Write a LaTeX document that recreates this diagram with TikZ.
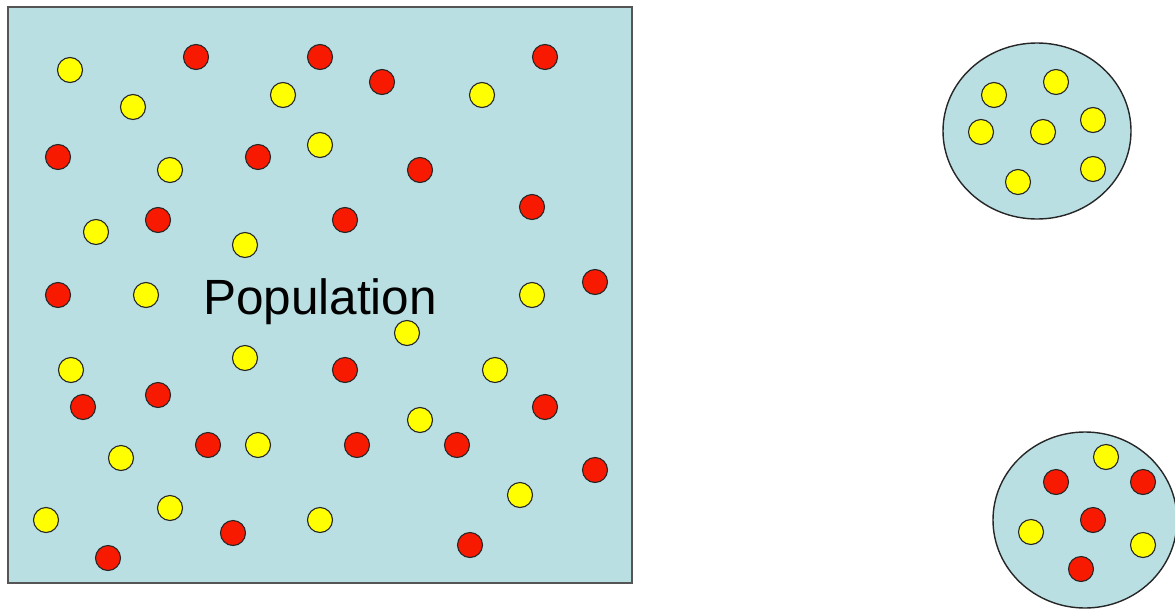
\documentclass[tikz,border=0pt]{standalone}
\usepackage{fontspec}
\setmainfont{Liberation Sans}
\usepackage{xcolor}
\usepackage{tikz}
\definecolor{popfill}{HTML}{BADFE3}
\definecolor{popline}{HTML}{555555}
\definecolor{dotred}{HTML}{F71A00}
\definecolor{dotyel}{HTML}{FFFF00}
\tikzset{
  popbox/.style={draw=popline, fill=popfill, line width=1.8pt},
  samplebox/.style={draw=black!85, fill=popfill, line width=1.4pt},
  rdot/.style={draw=black!85, fill=dotred, line width=1.1pt},
  ydot/.style={draw=black!85, fill=dotyel, line width=1.1pt},
}

\begin{document}
\begin{tikzpicture}[x=1pt,y=-1pt]
\useasboundingbox (0,0) rectangle (1175,608);

% ---------- population ----------
\draw[popbox] (8,7) rectangle (632,583);
\foreach \px/\py in {70/70,133/107,283/95,482/95,320/145,170/170,96/232,245/245,
    146/295,532/295,407/333,245/358,71/370,495/370,420/420,258/445,121/458,
    520/495,170/508,46/520,320/520}
  \draw[ydot] (\px,\py) circle (12.5);
\foreach \px/\py in {196/57,320/57,382/82,545/57,58/157,258/157,420/170,158/220,
    345/220,532/207,58/295,595/282,345/370,158/395,83/407,545/407,208/445,
    357/445,457/445,595/470,233/533,470/545,108/558}
  \draw[rdot] (\px,\py) circle (12.5);
\node[font=\fontsize{49.5}{50}\selectfont, inner sep=0pt, anchor=base] (pop) at (320,314) {Population};

% ---------- sample 1 ----------
\draw[samplebox] (1037,131) ellipse [x radius=94, y radius=88];
\foreach \px/\py in {994/95,1056/82,1093/120,981/132,1043/132,1093/169,1018/182}
  \draw[ydot] (\px,\py) circle (12.5);

% ---------- sample 2 ----------
\draw[samplebox] (1085,520) ellipse [x radius=92, y radius=88];
\foreach \px/\py in {1106/457,1031/532,1143/545}
  \draw[ydot] (\px,\py) circle (12.5);
\foreach \px/\py in {1056/482,1143/482,1093/520,1081/569}
  \draw[rdot] (\px,\py) circle (12.5);
\end{tikzpicture}
\end{document}
